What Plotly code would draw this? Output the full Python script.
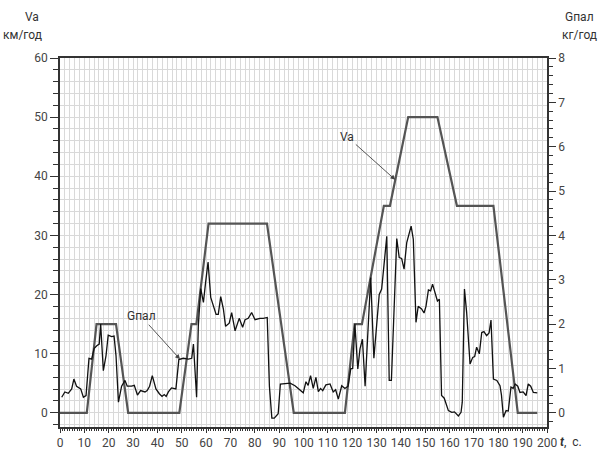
import numpy as np
import plotly.graph_objects as go

# Va, km/h (ECE-style urban cycle)
va_t = [0, 11, 15, 23, 28, 49, 54, 56, 61, 85, 96, 117, 121, 124, 133, 135.5, 143, 155, 163, 178, 188, 196]
va_v = [0, 0, 15, 15, 0, 0, 15, 15, 32, 32, 0, 0, 15, 15, 35, 35, 50, 50, 35, 35, 0, 0]

# Gпал, kg/h
g_t = [
    0.7, 2.0, 3.4, 4.8, 5.7, 6.8, 8.5, 9.6, 10.7, 11.9,
    13.0, 14.0, 15.1, 16.1, 16.7, 17.8, 18.9, 19.8, 21.2, 22.2,
    23.0, 24.0, 25.3, 26.7, 27.6, 29.4, 30.5, 31.8, 33.1, 34.9,
    35.8, 36.8, 37.9, 39.4, 40.8, 41.9, 42.8, 43.6, 44.5, 45.8,
    47.6, 48.8, 50.6, 52.7, 54.1, 54.8, 56.1, 56.8, 57.8, 58.9,
    59.8, 60.8, 61.9, 63.0, 64.1, 65.0, 66.0, 67.1, 68.0, 69.5,
    70.5, 71.9, 73.6, 75.0, 76.0, 77.3, 78.7, 80.1, 82.1, 83.5,
    85.1, 86.0, 87.0, 88.0, 89.6, 90.5, 94.5, 96.5, 98.6, 99.9,
    101.0, 101.9, 102.9, 104.0, 105.1, 106.1, 107.0, 107.9, 109.2, 110.9,
    112.2, 113.2, 114.3, 115.7, 117.0, 118.3, 119.4, 120.2, 121.1, 122.3,
    123.2, 124.2, 125.3, 127.6, 128.9, 131.1, 132.1, 133.1, 134.2,
    135.2, 136.1, 138.3, 139.3, 140.3, 141.3, 142.4, 143.5, 144.2, 145.1,
    146.2, 147.1, 148.5, 149.5, 150.3, 151.3, 152.2, 153.0, 153.9, 155.0,
    155.8, 156.7, 157.8, 159.5, 160.9, 162.0, 163.6, 164.7, 165.2, 166.1,
    167.0, 168.4, 169.5, 170.3, 171.1, 172.2, 173.2, 174.1, 175.2, 176.2,
    177.0, 178.0, 179.4, 180.7, 181.3, 182.1, 183.2, 184.1, 185.2, 186.1,
    186.9, 188.0, 188.9, 190.2, 191.4, 192.3, 193.3, 194.4, 196.0]
g_v = [
    0.35, 0.47, 0.44, 0.54, 0.76, 0.60, 0.54, 0.35, 0.39, 1.23,
    1.21, 1.45, 1.51, 1.55, 2.00, 0.95, 1.29, 1.75, 1.72, 1.73,
    1.29, 0.24, 0.60, 0.73, 0.60, 0.60, 0.62, 0.40, 0.50, 0.47,
    0.50, 0.60, 0.84, 0.54, 0.43, 0.37, 0.41, 0.37, 0.47, 0.56,
    0.54, 1.20, 1.23, 1.21, 1.23, 1.55, 0.35, 1.96, 2.80, 2.49,
    2.94, 3.40, 2.60, 2.41, 2.22, 2.22, 2.62, 2.34, 1.95, 2.02,
    2.26, 1.85, 2.13, 1.93, 2.10, 2.13, 2.26, 2.10, 2.13, 2.13,
    2.15, 0.60, -0.12, -0.12, -0.02, 0.65, 0.67, 0.61, 0.50, 0.45,
    0.70, 0.62, 0.84, 0.55, 0.80, 0.48, 0.55, 0.50, 0.63, 0.65,
    0.47, 0.52, 0.31, 0.61, 0.55, 0.60, 0.99, 1.00, 2.00, 0.99,
    1.44, 1.66, 0.60, 3.05, 1.23, 2.67, 2.79, 3.31, 3.98,
    0.73, 0.73, 3.93, 3.50, 3.48, 3.24, 3.84, 4.10, 4.21, 3.91,
    2.04, 2.40, 2.34, 2.25, 2.40, 2.77, 2.75, 2.90, 2.75, 2.52,
    2.56, 0.39, 0.33, 0.05, 0.01, 0.02, -0.07, 0.01, 0.24, 2.79,
    2.26, 1.10, 1.25, 1.27, 1.48, 1.33, 1.81, 1.83, 1.74, 1.80,
    2.09, 0.76, 0.73, 0.61, 0.40, -0.10, 0.05, 0.04, 0.58, 0.55,
    0.65, 0.60, 0.46, 0.47, 0.39, 0.65, 0.60, 0.46, 0.45]

n = min(len(g_t), len(g_v))
g_t, g_v = g_t[:n], g_v[:n]

FONT = "Roboto, DejaVu Sans, sans-serif"
AX = "#333333"
GRID = "#d9d9d9"
TXT = "#444444"
V_MIN, V_MAX = -2.4, 60
K = 8 / 60

fig = go.Figure()
fig.add_trace(go.Scatter(x=[], y=[], xaxis="x2", yaxis="y", showlegend=False, hoverinfo="skip"))
fig.add_trace(go.Scatter(x=va_t, y=va_v, mode="lines", name="Va",
                         line=dict(color="#555555", width=2.2)))
fig.add_trace(go.Scatter(x=g_t, y=g_v, mode="lines", name="Gпал", yaxis="y2",
                         line=dict(color="#111111", width=1.3)))

fig.update_layout(
    width=601, height=450,
    margin=dict(l=60, r=54, t=58, b=23, autoexpand=False),
    plot_bgcolor="white", paper_bgcolor="white",
    showlegend=False,
    font=dict(family=FONT, size=12, color=TXT),
    xaxis=dict(range=[0, 200], tick0=0, dtick=10, ticks="outside", ticklen=4,
               tickcolor=AX, tickwidth=1.2, showline=True, linecolor=AX, linewidth=1.5,
               mirror=True, showgrid=True, gridcolor=GRID, gridwidth=1, zeroline=False,
               minor=dict(dtick=2, tick0=0, showgrid=True, gridcolor=GRID, gridwidth=1, ticks=""),
               tickfont=dict(size=12, color=TXT), automargin=False),
    xaxis2=dict(overlaying="x", anchor="y", side="bottom", range=[0, 200], tick0=0, dtick=1,
                ticks="outside", ticklen=3, tickcolor=AX, tickwidth=1, showticklabels=False,
                showgrid=False, showline=False, zeroline=False, automargin=False),
    yaxis=dict(range=[V_MIN, V_MAX], tick0=0, dtick=10, ticks="outside", ticklen=8,
               tickcolor=AX, tickwidth=1.2, showline=True, linecolor=AX, linewidth=1.5,
               showgrid=True, gridcolor=GRID, gridwidth=1, zeroline=False,
               minor=dict(dtick=2, tick0=0, showgrid=True, gridcolor=GRID, gridwidth=1,
                          ticks="outside", ticklen=5, tickcolor=AX, tickwidth=1),
               tickfont=dict(size=12, color=TXT), automargin=False),
    yaxis2=dict(overlaying="y", side="right", anchor="x", range=[V_MIN * K, V_MAX * K],
                tick0=0, dtick=1, ticks="outside", ticklen=7, tickcolor=AX, tickwidth=1.2,
                showline=True, linecolor=AX, linewidth=1.5, showgrid=False, zeroline=False,
                minor=dict(dtick=0.2, tick0=0, showgrid=False, ticks="outside", ticklen=4,
                           tickcolor=AX, tickwidth=1),
                tickfont=dict(size=12, color=TXT), automargin=False),
)

lab = dict(size=12, color="#333333", family=FONT)
anns = [
    dict(text="Va", x=-0.058, y=1.112),
    dict(text="км/год", x=-0.076, y=1.062),
    dict(text="Gпал", x=1.066, y=1.112),
    dict(text="кг/год", x=1.066, y=1.062),
    dict(text="<b><i>t</i></b>,  с.", x=1.05, y=-0.041),
]
for a in anns:
    fig.add_annotation(xref="paper", yref="paper", showarrow=False,
                       xanchor="center", yanchor="middle", font=lab, **a)

va_x = 137.7
fig.add_annotation(x=va_x, y=float(np.interp(va_x, va_t, va_v)), xref="x", yref="y",
                   text="Va", showarrow=True, ax=-48, ay=-43, arrowhead=2, arrowsize=1.1,
                   arrowwidth=0.9, arrowcolor="#444444", font=lab)
g_x = 49.3
fig.add_annotation(x=g_x, y=float(np.interp(g_x, g_t, g_v)), xref="x", yref="y2",
                   text="Gпал", showarrow=True, ax=-39, ay=-43, arrowhead=2, arrowsize=1.1,
                   arrowwidth=0.9, arrowcolor="#444444", font=lab)

fig.write_html("out.html", config={"displayModeBar": False},
               post_script="document.body.style.margin='0';document.body.style.overflow='hidden';")
